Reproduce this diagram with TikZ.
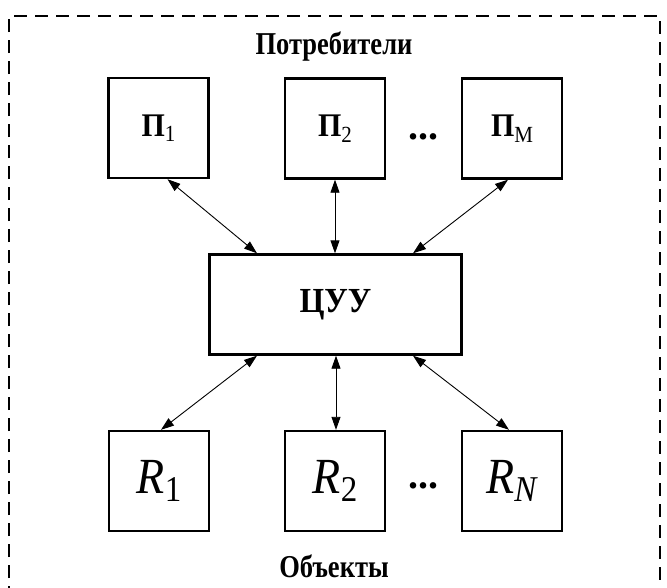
\documentclass[tikz,border=0pt]{standalone}
\usepackage{graphicx}
\usepackage{fontspec}
\setmainfont{Liberation Serif}
\usetikzlibrary{arrows.meta,calc}
\newcommand{\vstretch}[2]{\scalebox{1}[#1]{#2}}
\newcommand{\psub}[1]{\raisebox{-5pt}{\mdseries\fontsize{21}{23}\selectfont #1}}
\newcommand{\rsub}[1]{\raisebox{-8pt}{\fontsize{33}{36}\selectfont #1}}
\begin{document}
\begin{tikzpicture}[x=1pt,y=1pt,
  blk/.style={draw,line width=2.4pt,minimum width=100pt,minimum height=100pt,inner sep=0pt},
  cblk/.style={draw,line width=2.4pt,minimum width=252pt,minimum height=100pt,inner sep=0pt},
  conn/.style={line width=0.9pt,{Triangle[length=13pt,width=9pt]}-{Triangle[length=13pt,width=9pt]}},
  ttl/.style={font=\bfseries\fontsize{26.5}{30}\selectfont},
  lbl/.style={font=\bfseries\fontsize{30}{34}\selectfont},
  clbl/.style={font=\bfseries\fontsize{32}{36}\selectfont},
  dots/.style={font=\bfseries\fontsize{40}{44}\selectfont,inner sep=0pt},
  rlbl/.style={font=\fontsize{46}{50}\selectfont}]
\useasboundingbox (0,0) rectangle (667,-587);
\begin{scope}
\clip (0,0) rectangle (667,-587);
\draw[line width=2.2pt,dash pattern=on 13pt off 8pt] (9,-620) -- (9,-16) -- (660,-16) -- (660,-620);
\end{scope}
\node[ttl] (title) at (334,-46) {\vstretch{1.2}{Потребители}};
\node[ttl] (bottomtitle) at (334,-566) {\vstretch{1.2}{Объекты}};
\node[blk,lbl] (p1) at (158.5,-128) {\vstretch{1.1}{П\psub{1}}};
\node[blk,lbl] (p2) at (335,-128.5) {\vstretch{1.1}{П\psub{2}}};
\node[blk,lbl] (pm) at (512,-128.5) {\vstretch{1.1}{П\psub{M}}};
\node[dots,anchor=base] (dtop) at (423,-139) {...};
\node[cblk,clbl] (c) at (335.5,-304.5) {\vstretch{1.1}{ЦУУ}};
\node[blk,rlbl] (r1) at (159,-481) {\vstretch{1.1}{\textit{R}\rsub{1}}};
\node[blk,rlbl] (r2) at (335,-481) {\vstretch{1.1}{\textit{R}\rsub{2}}};
\node[blk,rlbl] (rn) at (512,-481) {\vstretch{1.1}{\textit{R}\rsub{\textit{N}}}};
\node[dots,anchor=base] (dbot) at (423,-488) {...};
\draw[conn] ($(p1.south)+(9,0)$) -- ($(c.north)+(-78.5,0)$);
\draw[conn] (p2.south) -- ($(c.north)+(-0.5,0)$);
\draw[conn] ($(pm.south)+(-4,0)$) -- ($(c.north)+(77.5,0)$);
\draw[conn] ($(c.south)+(-78.5,0)$) -- ($(r1.north)+(2,0)$);
\draw[conn] ($(c.south)+(0.5,0)$) -- ($(r2.north)+(1,0)$);
\draw[conn] ($(c.south)+(77.5,0)$) -- ($(rn.north)+(-3,0)$);
\end{tikzpicture}
\end{document}
